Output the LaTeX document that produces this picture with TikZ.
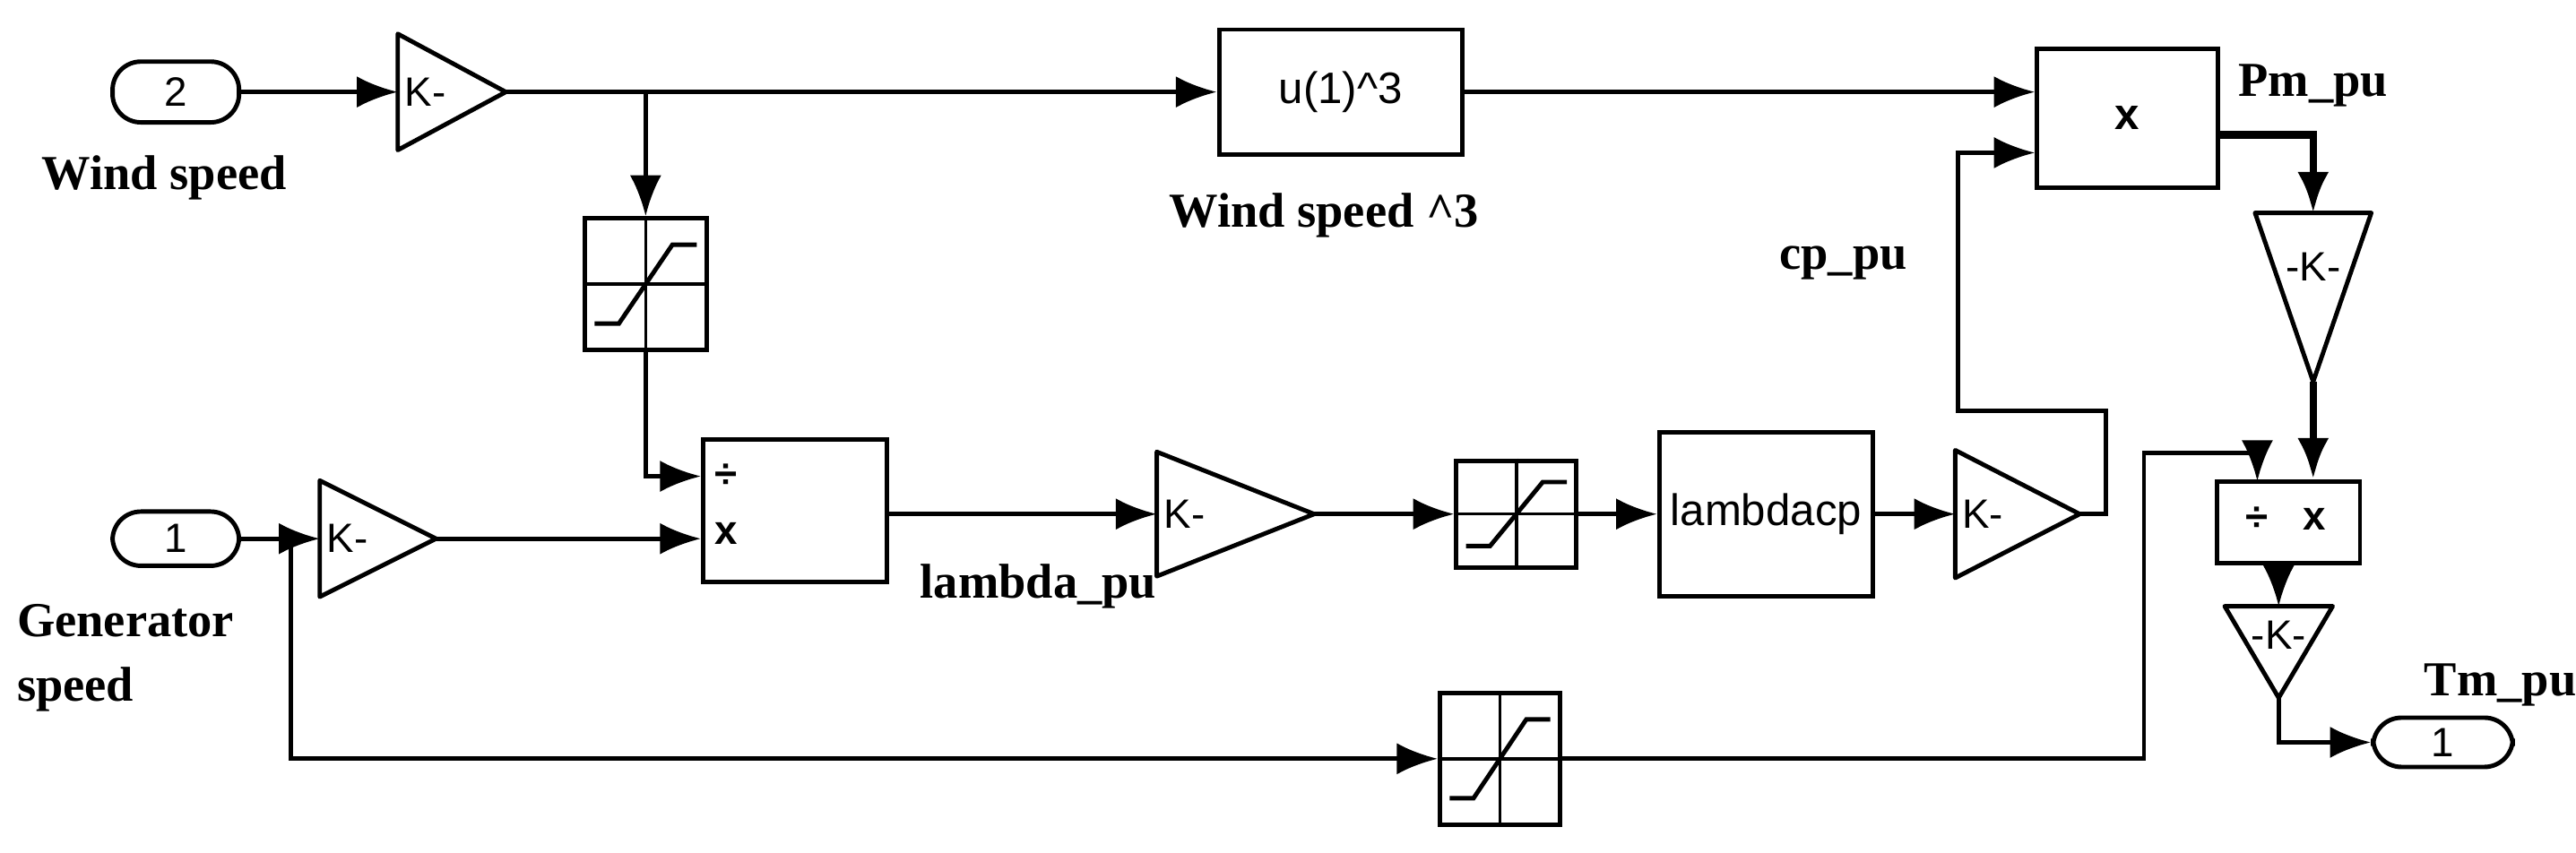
\documentclass[tikz,border=0pt]{standalone}
\usepackage{fontspec}
\setmainfont{Liberation Serif}
\newfontfamily\blkf{Liberation Sans}
\usetikzlibrary{arrows.meta,calc}
\def\u{0.01833cm}
\tikzset{
 wire/.style={line width=1.4pt,-{Latex[length=13pt,width=10pt]}},
 pl/.style={line width=1.4pt},
 blk/.style={draw,line width=1.4pt,inner sep=0pt,font=\blkf\fontsize{14}{14}\selectfont},
 port/.style={draw,line width=1.4pt,rounded corners=9pt,inner sep=0pt,font=\blkf\fontsize{13}{13}\selectfont},
 gb/.style={inner sep=0pt},
 lab/.style={font=\bfseries\fontsize{15.5}{15.5}\selectfont,inner sep=0pt},
 kt/.style={font=\blkf\fontsize{13}{13}\selectfont,inner sep=0pt}
}
\newcommand\gainR[4]{\node[gb,minimum width={#3*\u},minimum height={#4*\u}] (#1) at (#2) {};
 \draw[pl,line join=round] (#1.north west)--(#1.east)--(#1.south west)--cycle;
 \node[kt,anchor=west] at ($(#1.west)+(4,0)$) {K-};}
\newcommand\gainD[4]{\node[gb,minimum width={#3*\u},minimum height={#4*\u}] (#1) at (#2) {};
 \draw[pl,line join=round] (#1.north west)--(#1.north east)--(#1.south)--cycle;
 \node[kt] at ($(#1.north)+(0,0.32*#4)$) {-K-};}
\newcommand\sat[4]{\node[blk,minimum width={#3*\u},minimum height={#4*\u}] (#1) at (#2) {};
 \draw[line width=1pt] (#1.north)--(#1.south) (#1.west)--(#1.east);
 \draw[line width=1.4pt,shift={(#1.center)}] (-0.42*#3,0.3*#4)--(-0.22*#3,0.3*#4)--(0.22*#3,-0.3*#4)--(0.42*#3,-0.3*#4);}
\begin{document}
\begin{tikzpicture}[x=\u,y=-\u]
\useasboundingbox (0,0) rectangle (1568,519);
% inports / outports
\node[port,minimum width={77*\u},minimum height={37*\u}] (in2) at (107,56) {2};
\node[port,minimum width={77*\u},minimum height={33*\u}] (in1) at (107,328) {1};
\node[port,minimum width={85*\u},minimum height={30*\u}] (out1) at (1487,452) {1};
% blocks
\gainR{g1}{275,56}{65}{70}
\node[blk,minimum width={148*\u},minimum height={76*\u}] (u3) at (816,56) {u(1)\^{}3};
\node[blk,minimum width={110*\u},minimum height={85*\u}] (pm) at (1295,72) {\bfseries x};
\sat{s1}{393,173}{74}{80}
\node[blk,minimum width={112*\u},minimum height={87*\u}] (p1) at (484,311) {};
\node[kt,font=\blkf\bfseries\fontsize{13}{13}\selectfont] at (442,290) {÷};
\node[kt,font=\blkf\bfseries\fontsize{13}{13}\selectfont] at (442,325) {x};
\gainR{g2}{230,328}{70}{70}
\gainR{g3}{752,313}{95}{75}
\sat{s2}{923,313}{73}{65}
\node[blk,minimum width={130*\u},minimum height={100*\u}] (lcp) at (1075,313) {lambdacp};
\gainR{g4}{1228,313}{75}{77}
\gainD{g5}{1408,181}{70}{102}
\node[blk,minimum width={87*\u},minimum height={50*\u}] (dv) at (1393,318) {};
\node[kt,font=\blkf\bfseries\fontsize{13}{13}\selectfont] at (1374,316) {÷};
\node[kt,font=\blkf\bfseries\fontsize{13}{13}\selectfont] at (1409,316) {x};
\gainD{g6}{1387,397}{65}{55}
\sat{s3}{913,462}{73}{80}
% labels
\node[lab] at (100,108) {Wind speed};
\node[lab] at (806,131) {Wind speed \^{}3};
\node[lab] at (1408,52) {Pm\_pu};
\node[lab] at (1122,160) {cp\_pu};
\node[lab] at (632,357) {lambda\_pu};
\node[lab,anchor=west] at (10,378) {Generator};
\node[lab,anchor=west] at (10,420) {speed};
\node[lab] at (1522,417) {Tm\_pu};
% coordinates
\coordinate (j1) at (393,56);
\coordinate (j2) at (177,328);
% wires
\draw[wire] (in2.east) -- (g1.west);
\draw[wire] (g1.east) -- (u3.west);
\draw[wire] (j1) -- (s1.north);
\draw[wire] (s1.south) |- (p1.west |- 0,290);
\draw[wire] (u3.east) -- (pm.west |- 0,56);
\draw[wire] (in1.east) -- (g2.west);
\draw[wire] (g2.east) -- (p1.west |- g2.east);
\draw[wire] (p1.east |- 0,313) -- (g3.west);
\draw[wire] (g3.east) -- (s2.west);
\draw[wire] (s2.east) -- (lcp.west);
\draw[wire] (lcp.east) -- (g4.west);
\draw[wire] (g4.east) -- (1282,313) -- (1282,250) -- (1192,250) -- (1192,93) -- (pm.west |- 0,93);
\draw[wire,line width=2.4pt] ($(pm.east)+(0,10)$) -| (g5.north);
\draw[wire,line width=2.4pt] (g5.south) -- (g5.south |- dv.north);
\draw[wire] (j2) |- (s3.west);
\draw[wire] (s3.east) -- (1305,462) -- (1305,276) -- (1374,276) -- (1374,293);
\draw[wire] (g6.north |- dv.south) -- (g6.north);
\draw[wire] (g6.south) |- (out1.west);
\end{tikzpicture}
\end{document}
